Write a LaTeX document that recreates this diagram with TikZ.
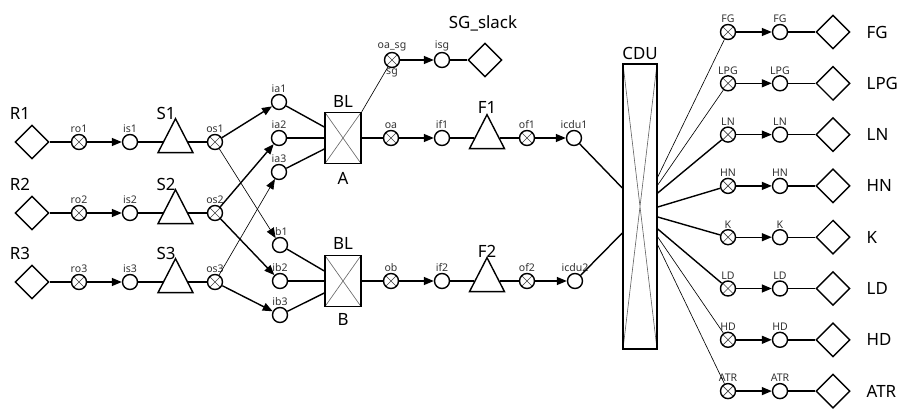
\documentclass[tikz,border=0pt]{standalone}
\usepackage{fontspec}
\setmainfont{Noto Sans}
\usetikzlibrary{arrows.meta,calc,shapes.geometric}

\begin{document}
\begin{tikzpicture}[x=0.025cm,y=-0.025cm,
    ln/.style={line width=1pt},
    thinln/.style={line width=0.45pt},
    arr/.style={ln,-{Triangle[length=2.5mm,width=2mm]}},
    tag/.style={font=\fontsize{7.5}{8}\selectfont,inner sep=0.5pt,text=black!80},
    big/.style={font=\fontsize{12}{14}\selectfont,inner sep=1pt},
    port/.style={circle,draw,ln,minimum size=0.375cm,inner sep=0pt,label distance=3pt},
    xport/.style={port,path picture={
        \draw[thinln,black!75] (path picture bounding box.north west) -- (path picture bounding box.south east)
          (path picture bounding box.south west) -- (path picture bounding box.north east);}},
    tank/.style={diamond,draw,ln,minimum size=0.85cm,inner sep=0pt},
    splitter/.style={isosceles triangle,isosceles triangle stretches,shape border rotate=90,
        draw,ln,minimum width=0.875cm,minimum height=0.85cm,inner sep=0pt},
    blender/.style={draw,ln,minimum width=0.9cm,minimum height=1.275cm,inner sep=0pt,path picture={
        \draw[thinln,black!60] (path picture bounding box.north west) -- (path picture bounding box.south east)
          (path picture bounding box.south west) -- (path picture bounding box.north east);}}
  ]
  \useasboundingbox (0,0) rectangle (901,408);

  % crude feeds and splitters
  \node[tank] (R1) at (32,142) {};
  \node[big] (R1t) at (20,113) {R1};
  \node[xport,label={[tag]above:ro1}] (ro1) at (79,142) {};
  \node[port,label={[tag]above:is1}] (is1) at (130,142) {};
  \node[splitter] (S1) at (175.5,142) {};
  \node[big] (S1t) at (166,113) {S1};
  \node[xport,label={[tag]above:os1}] (os1) at (215,142) {};

  \node[tank] (R2) at (32,213) {};
  \node[big] (R2t) at (20,184) {R2};
  \node[xport,label={[tag]above:ro2}] (ro2) at (79,213) {};
  \node[port,label={[tag]above:is2}] (is2) at (130,213) {};
  \node[splitter] (S2) at (175.5,213) {};
  \node[big] (S2t) at (166,184) {S2};
  \node[xport,label={[tag]above:os2}] (os2) at (215,213) {};

  \node[tank] (R3) at (32,282) {};
  \node[big] (R3t) at (20,253) {R3};
  \node[xport,label={[tag]above:ro3}] (ro3) at (79,282) {};
  \node[port,label={[tag]above:is3}] (is3) at (130,282) {};
  \node[splitter] (S3) at (175.5,282) {};
  \node[big] (S3t) at (166,253) {S3};
  \node[xport,label={[tag]above:os3}] (os3) at (215,282) {};

  \draw[ln] (R1) -- (ro1);
  \draw[arr] (ro1) -- (is1);
  \draw[ln] (is1) -- (S1);
  \draw[ln] (S1) -- (os1);
  \draw[ln] (R2) -- (ro2);
  \draw[arr] (ro2) -- (is2);
  \draw[ln] (is2) -- (S2);
  \draw[ln] (S2) -- (os2);
  \draw[ln] (R3) -- (ro3);
  \draw[arr] (ro3) -- (is3);
  \draw[ln] (is3) -- (S3);
  \draw[ln] (S3) -- (os3);

  % blender inlets
  \node[port,label={[tag]above:ia1}] (ia1) at (279,102) {};
  \node[port,label={[tag]above:ia2}] (ia2) at (279,138) {};
  \node[port,label={[tag]above:ia3}] (ia3) at (279,172) {};
  \node[port,label={[tag]above:ib1}] (ib1) at (280,245) {};
  \node[port,label={[tag]above:ib2}] (ib2) at (280,281) {};
  \node[port,label={[tag]above:ib3}] (ib3) at (280,315) {};

  \draw[arr] (os1) -- (ia1);
  \draw[arr,thinln] (os1) -- (ib1);
  \draw[arr] (os2) -- (ia2);
  \draw[arr] (os2) -- (ib2);
  \draw[arr,thinln] (os3) -- (ia3);
  \draw[arr] (os3) -- (ib3);

  % blenders
  \node[blender] (BLA) at (343,138) {};
  \node[big] (BLAt) at (343,101) {BL};
  \node[big] (BLAb) at (343,178) {A};
  \node[blender] (BLB) at (343,281) {};
  \node[big] (BLBt) at (343,243) {BL};
  \node[big] (BLBb) at (343,319) {B};

  \draw[ln] (ia1) -- ($(BLA.west)+(0,-11)$);
  \draw[ln] (ia2) -- (BLA.west);
  \draw[ln] (ia3) -- ($(BLA.west)+(0,11)$);
  \draw[ln] (ib1) -- ($(BLB.west)+(0,-10)$);
  \draw[ln] (ib2) -- (BLB.west);
  \draw[ln] (ib3) -- ($(BLB.west)+(0,12)$);

  % slack branch
  \node[xport,label={[tag]above:oa\_sg},label={[tag]below:sg}] (oasg) at (392,60) {};
  \node[port,label={[tag]above:isg}] (isg) at (442,60) {};
  \node[tank] (SGslack) at (485,60) {};
  \node[big] (SGt) at (483,23) {SG\_slack};
  \draw[thinln] (BLA.north east) -- (oasg);
  \draw[arr] (oasg) -- (isg);
  \draw[ln] (isg) -- (SGslack);

  % furnace lines
  \node[xport,label={[tag]above:oa}] (oa) at (391,138) {};
  \node[port,label={[tag]above:if1}] (if1) at (442,138) {};
  \node[splitter] (F1) at (487,138) {};
  \node[big] (F1t) at (487,107) {F1};
  \node[xport,label={[tag]above:of1}] (of1) at (527,138) {};
  \node[port,label={[tag]above:icdu1}] (icdu1) at (574,138) {};

  \node[xport,label={[tag]above:ob}] (ob) at (391,281) {};
  \node[port,label={[tag]above:if2}] (if2) at (442,281) {};
  \node[splitter] (F2) at (487,281) {};
  \node[big] (F2t) at (487,251) {F2};
  \node[xport,label={[tag]above:of2}] (of2) at (527,281) {};
  \node[port,label={[tag]above:icdu2}] (icdu2) at (575,281) {};

  \draw[ln] (BLA) -- (oa);
  \draw[arr] (oa) -- (if1);
  \draw[ln] (if1) -- (F1);
  \draw[ln] (F1) -- (of1);
  \draw[arr] (of1) -- (icdu1);
  \draw[ln] (BLB) -- (ob);
  \draw[arr] (ob) -- (if2);
  \draw[ln] (if2) -- (F2);
  \draw[ln] (F2) -- (of2);
  \draw[arr] (of2) -- (icdu2);

  % column
  \node[blender,minimum width=0.85cm,minimum height=7.125cm] (CDU) at (640,206.5) {};
  \node[big] (CDUt) at (640,53) {CDU};
  \draw[ln] (icdu1) -- ($(CDU.west)+(0,-18.5)$);
  \draw[ln] (icdu2) -- ($(CDU.west)+(0,26.5)$);

  % products
  \foreach \p/\yy/\dy/\w in {FG/32/-29.5/0.45pt, LPG/83.3/-21.5/0.45pt, LN/134.6/-13.5/1pt,
      HN/185.9/0.5/1pt, K/237.2/10.5/1pt, LD/288.5/22.5/1pt, HD/339.8/30.5/0.45pt, ATR/391.1/38.5/0.45pt}{
    \node[xport,label={[tag]above:\p}] (x\p) at (728,\yy) {};
    \node[port,label={[tag]above:\p}] (i\p) at (780,\yy) {};
    \node[tank] (d\p) at (833,\yy) {};
    \node[big,anchor=west] (t\p) at (865,\yy) {\p};
    \draw[line width=\w] ($(CDU.east)+(0,\dy)$) -- (x\p);
    \draw[arr] (x\p) -- (i\p);
    \draw[ln] (i\p) -- (d\p);
  }
\end{tikzpicture}
\end{document}
